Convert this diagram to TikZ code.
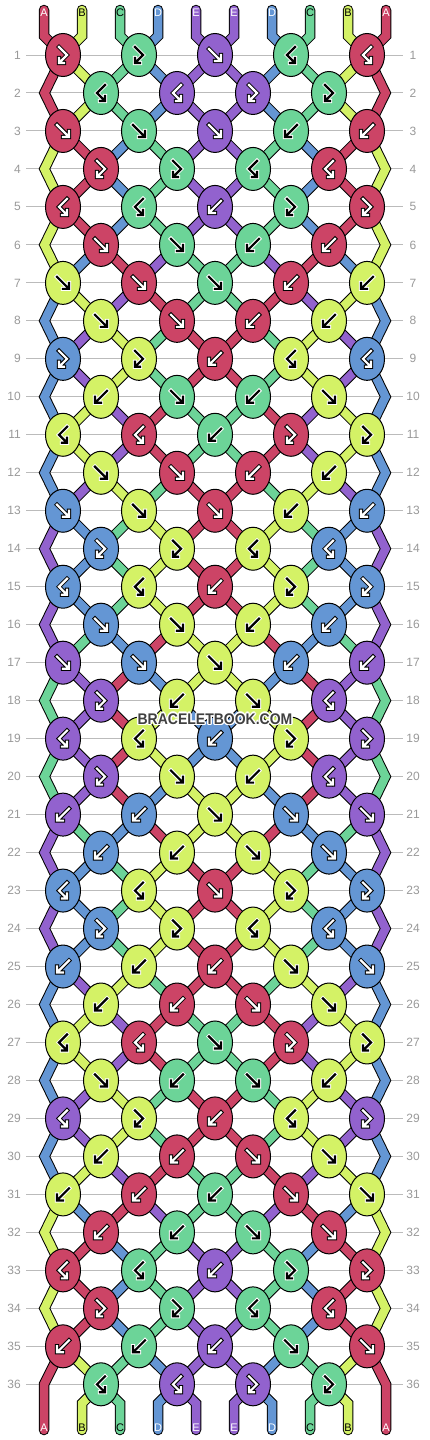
\documentclass[tikz,border=0pt]{standalone}
\usepackage{fontspec}
\setmainfont{Liberation Sans}
\usetikzlibrary{shapes.geometric}
\pgfdeclarelayer{fg}
\pgfsetlayers{main,fg}
\definecolor{cA}{HTML}{CC4466}
\definecolor{cB}{HTML}{D4F266}
\definecolor{cC}{HTML}{6CD498}
\definecolor{cD}{HTML}{6496D4}
\definecolor{cE}{HTML}{9262CE}
\colorlet{tA}{white}\colorlet{oA}{black}
\colorlet{tB}{black}\colorlet{oB}{white}
\colorlet{tC}{black}\colorlet{oC}{white}
\colorlet{tD}{white}\colorlet{oD}{black}
\colorlet{tE}{white}\colorlet{oE}{black}
\definecolor{linegray}{HTML}{BBBBBB}
\definecolor{numgray}{HTML}{999999}
\definecolor{wmark}{HTML}{404040}
% knot types per row
\newcommand\setT[2]{\expandafter\def\csname T#1\endcsname{#2}}
\setT{1}{fb,fb,f,bf,bf}
\setT{2}{bf,bf,fb,fb}
\setT{3}{f,f,f,b,b}
\setT{4}{fb,fb,bf,bf}
\setT{5}{bf,bf,b,fb,fb}
\setT{6}{f,f,b,b}
\setT{7}{f,f,f,b,b}
\setT{8}{f,f,b,b}
\setT{9}{fb,fb,b,bf,bf}
\setT{10}{b,f,b,f}
\setT{11}{bf,bf,b,fb,fb}
\setT{12}{f,f,b,b}
\setT{13}{f,f,f,b,b}
\setT{14}{fb,fb,bf,bf}
\setT{15}{bf,bf,b,fb,fb}
\setT{16}{f,f,b,b}
\setT{17}{f,f,f,b,b}
\setT{18}{fb,b,f,bf}
\setT{19}{bf,bf,b,fb,fb}
\setT{20}{fb,f,b,bf}
\setT{21}{b,b,f,f,f}
\setT{22}{b,b,f,f}
\setT{23}{bf,bf,f,fb,fb}
\setT{24}{fb,fb,bf,bf}
\setT{25}{b,b,b,f,f}
\setT{26}{b,b,f,f}
\setT{27}{bf,bf,f,fb,fb}
\setT{28}{f,b,f,b}
\setT{29}{bf,fb,b,bf,fb}
\setT{30}{b,b,f,f}
\setT{31}{b,b,b,f,f}
\setT{32}{b,b,f,f}
\setT{33}{bf,bf,b,fb,fb}
\setT{34}{fb,fb,bf,bf}
\setT{35}{b,b,b,f,f}
\setT{36}{bf,bf,fb,fb}
% knot actions
\def\bbkf{\let\kc\L\global\expandafter\let\csname S\p\endcsname\R\global\expandafter\let\csname S\q\endcsname\L}
\def\bbkb{\let\kc\R\global\expandafter\let\csname S\p\endcsname\R\global\expandafter\let\csname S\q\endcsname\L}
\def\bbkfb{\let\kc\L}
\def\bbkbf{\let\kc\R}
% glyph paths (y grows downward)
\def\gpf{(-6,-6) -- (5,5) (0,6) -- (6,6) -- (6,0)}
\def\gpb{(6,-6) -- (-5,5) (0,6) -- (-6,6) -- (-6,0)}
\def\gpfb{(-4,-8) -- (4,0) -- (-3.3,7.3) (1,8) -- (-4,8) -- (-4,3)}
\def\gpbf{(4,-8) -- (-4,0) -- (3.3,7.3) (-1,8) -- (4,8) -- (4,3)}
\begin{document}
\begin{tikzpicture}[x=1pt,y=-1pt,
  knot/.style={ellipse, draw=black, line width=1pt, minimum width=35pt, minimum height=43pt, inner sep=0pt},
  strand/.style={draw=black, line width=1pt, double distance=8.5pt, line join=miter},
  numlab/.style={text=numgray, font=\fontsize{12}{14}\selectfont, inner sep=0pt},
  endlab/.style={font=\fontsize{11}{13}\selectfont, inner sep=0pt},
  wm/.style={font=\bfseries\fontsize{14}{16}\selectfont, inner sep=0pt, yscale=1.1}]
\fill[white] (0,0) rectangle (430,1440);
\useasboundingbox (0,0) rectangle (430,1440);
% initial strings
\foreach \p/\l in {1/A,2/B,3/C,4/D,5/E,6/E,7/D,8/C,9/B,10/A}{\expandafter\xdef\csname S\p\endcsname{\l}}
% row lines and numbers
\foreach \r in {1,...,36}{
  \pgfmathsetmacro\yy{55+37.98*(\r-1)}
  \coordinate (la-\r) at (26,\yy);
  \coordinate (lb-\r) at (403,\yy);
  \draw[linegray, line width=1pt] (la-\r) -- (lb-\r);
  \node[numlab, anchor=east] (nl-\r) at (21,\yy) {\r};
  \node[numlab] (nr-\r) at (413,\yy) {\r};
  \coordinate (eL-\r) at (44.5,\yy);
  \coordinate (eR-\r) at (385.5,\yy);
}
% knots
\foreach \r in {1,...,36}{
  \pgfmathtruncatemacro\odd{mod(\r,2)}
  \pgfmathsetmacro\yy{55+37.98*(\r-1)}
  \edef\tlist{\csname T\r\endcsname}
  \foreach \t [count=\i] in \tlist {
    \ifnum\odd=1
      \pgfmathtruncatemacro\p{2*\i-1}\pgfmathsetmacro\xx{63+76*(\i-1)}
    \else
      \pgfmathtruncatemacro\p{2*\i}\pgfmathsetmacro\xx{101+76*(\i-1)}
    \fi
    \pgfmathtruncatemacro\q{\p+1}
    \edef\L{\csname S\p\endcsname}
    \edef\R{\csname S\q\endcsname}
    \csname bbk\t\endcsname
    \edef\fillc{c\kc}\edef\glc{t\kc}\edef\olc{o\kc}
    \expandafter\let\expandafter\gp\csname gp\t\endcsname
    \begin{pgfonlayer}{fg}
      \node[knot, fill=\fillc] (k-\r-\i) at (\xx,\yy) {};
      \draw[line width=4.2pt, draw=\olc, line cap=rect, line join=miter, shift={(\xx,\yy)}] \gp;
      \draw[line width=2.2pt, draw=\glc, line cap=rect, line join=miter, shift={(\xx,\yy)}] \gp;
    \end{pgfonlayer}
  }
  \foreach \p in {1,...,10}{\expandafter\xdef\csname C\r-\p\endcsname{\csname S\p\endcsname}}
}
% interior strand segments
\foreach \r in {1,...,35}{
  \pgfmathtruncatemacro\rn{\r+1}
  \pgfmathtruncatemacro\odd{mod(\r,2)}
  \foreach \p in {2,...,9}{
    \ifnum\odd=1
      \pgfmathtruncatemacro\si{(\p+1)/2}\pgfmathtruncatemacro\ti{\p/2}
    \else
      \pgfmathtruncatemacro\si{\p/2}\pgfmathtruncatemacro\ti{(\p+1)/2}
    \fi
    \edef\col{c\csname C\r-\p\endcsname}
    \draw[strand, double=\col] (k-\r-\si.center) -- (k-\rn-\ti.center);
  }
}
% edge strands
\foreach \r in {1,3,...,33}{
  \pgfmathtruncatemacro\rn{\r+1}
  \pgfmathtruncatemacro\rnn{\r+2}
  \edef\colL{c\csname C\r-1\endcsname}
  \edef\colR{c\csname C\r-10\endcsname}
  \draw[strand, double=\colL] (k-\r-1.center) -- (eL-\rn) -- (k-\rnn-1.center);
  \draw[strand, double=\colR] (k-\r-5.center) -- (eR-\rn) -- (k-\rnn-5.center);
}
% top ends
\foreach \p/\l in {1/A,2/B,3/C,4/D,5/E,6/E,7/D,8/C,9/B,10/A}{
  \pgfmathsetmacro\xx{44+38*(\p-1)}
  \pgfmathtruncatemacro\ti{(\p+1)/2}
  \coordinate (top-\p) at (\xx,10);
  \coordinate (tv-\p) at (\xx,36);
  \draw[strand, double=c\l, line cap=round] (top-\p) -- (tv-\p) -- (k-1-\ti.center);
  \node[endlab, text=t\l] (tl-\p) at (\xx,13) {\l};
}
% bottom ends
\foreach \p/\l in {1/A,2/B,3/C,4/D,5/E,6/E,7/D,8/C,9/B,10/A}{
  \pgfmathsetmacro\xx{44+38*(\p-1)}
  \pgfmathtruncatemacro\si{\p/2}
  \def\src{k-36-\si}\def\vy{1403.3}
  \ifnum\p=1 \def\src{k-35-1}\def\vy{1384.3}\fi
  \ifnum\p=10 \def\src{k-35-5}\def\vy{1384.3}\fi
  \edef\col{c\csname C36-\p\endcsname}
  \coordinate (bv-\p) at (\xx,\vy);
  \coordinate (bot-\p) at (\xx,1430);
  \draw[strand, double=\col, line cap=round] (\src.center) -- (bv-\p) -- (bot-\p);
  \node[endlab, text=t\l] (bl-\p) at (\xx,1428) {\l};
}
% watermark
\begin{pgfonlayer}{fg}
\foreach \dx/\dy [count=\n] in {-1/-1,0/-1,1/-1,-1/0,1/0,-1/1,0/1,1/1,-1.4/0,1.4/0,0/-1.4,0/1.4}{
  \node[wm, text=white] (wmh-\n) at (215+\dx,719+\dy) {BRACELETBOOK.COM};
}
\node[wm, text=wmark] (wm) at (215,719) {BRACELETBOOK.COM};
\end{pgfonlayer}
\end{tikzpicture}
\end{document}
